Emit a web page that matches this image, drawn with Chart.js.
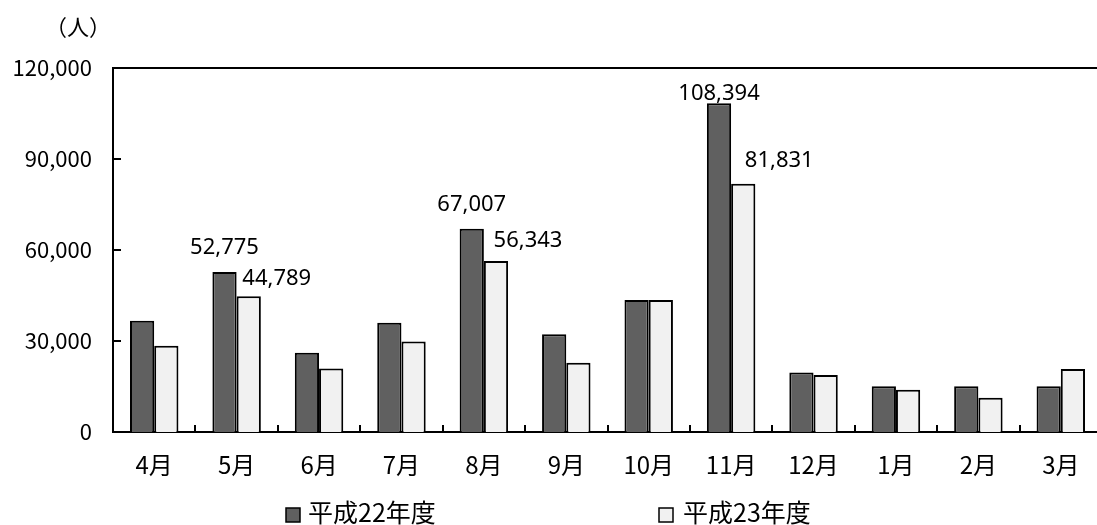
<!DOCTYPE html>
<html lang="ja">
<head>
<meta charset="utf-8">
<title>月別入込客数</title>
<script src="https://cdn.jsdelivr.net/npm/chart.js@4.4.1/dist/chart.umd.min.js"></script>
<style>
  html, body { margin: 0; padding: 0; background: #fff; overflow: hidden; }
  #wrap { width: 1102px; height: 525px; }
</style>
</head>
<body>
<div id="wrap"><canvas id="chart" width="1102" height="525"></canvas></div>
<script>
// 月（年度順）
const months = ['4月', '5月', '6月', '7月', '8月', '9月', '10月', '11月', '12月', '1月', '2月', '3月'];
// 系列名
const seriesNames = ['平成22年度', '平成23年度'];
// 平成22年度（人）
const fy22 = [36700, 52775, 26100, 36000, 67007, 32200, 43500, 108394, 19600, 15100, 15100, 15100];
// 平成23年度（人）
const fy23 = [28400, 44789, 20900, 29800, 56343, 22800, 43500, 81831, 18800, 13900, 11300, 20800];
// 縦軸の目盛
const yTicks = [0, 30000, 60000, 90000, 120000];
// 数値を表示する月（インデックス）
const labeledMonths = [1, 4, 7];
const unitLabel = '（人）';

const CJK = '"Noto Sans CJK JP", "Noto Sans", sans-serif';
const fmt = v => v.toLocaleString('en-US');

// 値ラベルの位置（棒の上端からのずれ）
const labelShift = {
  0: { 1: [0, -24], 4: [0, -24], 7: [0, -9] },
  1: { 1: [28, -17], 4: [32, -20], 7: [36, -23] }
};

const framePlugin = {
  id: 'frame',
  afterDatasetsDraw(chart) {
    const { ctx, chartArea: a, scales: { x, y } } = chart;
    ctx.save();
    ctx.strokeStyle = '#000';
    ctx.lineWidth = 2;
    // 上枠
    ctx.beginPath();
    ctx.moveTo(a.left, a.top);
    ctx.lineTo(a.right, a.top);
    ctx.stroke();
    // 縦軸の内向き目盛
    yTicks.forEach(v => {
      if (v === 0 || v === 120000) return;
      const py = Math.round(y.getPixelForValue(v));
      ctx.beginPath();
      ctx.moveTo(a.left, py);
      ctx.lineTo(a.left + 8, py);
      ctx.stroke();
    });
    // 横軸の区切り目盛
    for (let i = 1; i < months.length; i++) {
      const px = Math.round((x.getPixelForValue(i - 1) + x.getPixelForValue(i)) / 2);
      ctx.beginPath();
      ctx.moveTo(px, a.bottom);
      ctx.lineTo(px, a.bottom - 7);
      ctx.stroke();
    }
    ctx.restore();
  },
  afterDraw(chart) {
    const { ctx } = chart;
    ctx.save();
    // 値ラベル
    ctx.fillStyle = '#000';
    ctx.font = '22px "Noto Sans", sans-serif';
    ctx.textAlign = 'center';
    ctx.textBaseline = 'middle';
    chart.data.datasets.forEach((ds, di) => {
      const meta = chart.getDatasetMeta(di);
      labeledMonths.forEach(mi => {
        const bar = meta.data[mi];
        const [dx, dy] = labelShift[di][mi];
        ctx.fillText(fmt(ds.data[mi]), bar.x + dx, bar.y + dy);
      });
    });
    // 単位
    ctx.font = '22px ' + CJK;
    ctx.fillText(unitLabel, 78, 27);
    // 凡例
    const items = [{ box: 286, text: 308 }, { box: 659, text: 683 }];
    ctx.font = '25px ' + CJK;
    ctx.textAlign = 'left';
    chart.data.datasets.forEach((ds, di) => {
      const it = items[di];
      ctx.fillStyle = ds.backgroundColor;
      ctx.fillRect(it.box, 508, 14, 14);
      ctx.strokeStyle = '#000';
      ctx.lineWidth = 1.5;
      ctx.strokeRect(it.box, 508, 14, 14);
      ctx.fillStyle = '#000';
      ctx.fillText(ds.label, it.text, 512);
    });
    ctx.restore();
  }
};

new Chart(document.getElementById('chart'), {
  type: 'bar',
  data: {
    labels: months,
    datasets: [
      { label: seriesNames[0], data: fy22, backgroundColor: '#606060', borderColor: '#000', borderWidth: 2 },
      { label: seriesNames[1], data: fy23, backgroundColor: '#f1f1f1', borderColor: '#000', borderWidth: 2 }
    ]
  },
  options: {
    responsive: false,
    animation: false,
    devicePixelRatio: 1,
    layout: { padding: { top: 68, left: 0, right: 0, bottom: 0 } },
    datasets: { bar: { categoryPercentage: 0.588, barPercentage: 1.0 } },
    plugins: { legend: { display: false }, tooltip: { enabled: false } },
    scales: {
      x: {
        grid: { display: false, drawTicks: false },
        border: { display: true, color: '#000', width: 2 },
        ticks: { color: '#000', font: { family: CJK, size: 24 }, padding: 18, maxRotation: 0 },
        afterFit(s) { s.height = 93; }
      },
      y: {
        min: 0, max: 120000,
        afterBuildTicks(s) { s.ticks = yTicks.map(v => ({ value: v })); },
        grid: { display: false, drawTicks: false },
        border: { display: true, color: '#000', width: 2 },
        ticks: { color: '#000', font: { family: CJK, size: 22 }, padding: 21, callback: v => fmt(v) },
        afterFit(s) { s.width = 113; }
      }
    }
  },
  plugins: [framePlugin]
});
</script>
</body>
</html>
